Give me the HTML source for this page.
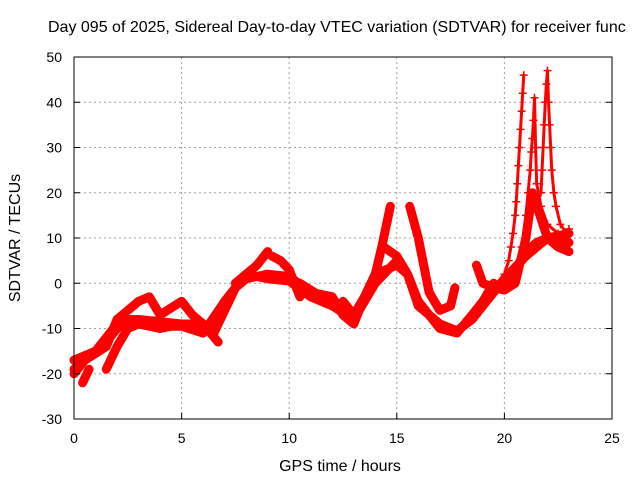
<!DOCTYPE html>
<html><head><meta charset="utf-8"><style>
body{margin:0;background:#fff}
svg text{font-family:"Liberation Sans",sans-serif;font-size:14px;fill:#000}
svg text.big{font-size:16px}
</style></head><body>
<svg id="chart" width="640" height="480" viewBox="0 0 640 480" xmlns="http://www.w3.org/2000/svg">
<rect width="640" height="480" fill="#fff"/>
<text class="big" x="48" y="32">Day 095 of 2025, Sidereal Day-to-day VTEC variation (SDTVAR) for receiver func</text>
<g id="grid"></g>
<g id="series"></g>
<rect x="74" y="57" width="538" height="362" fill="none" stroke="#000" stroke-width="1"/>
<g id="axes"></g>
<text class="big" x="340" y="471" text-anchor="middle">GPS time / hours</text>
<text class="big" transform="translate(20,238) rotate(-90)" text-anchor="middle">SDTVAR / TECUs</text>
</svg>
<script>
const xTicks=[0,5,10,15,20,25];
const yTicks=[-30,-20,-10,0,10,20,30,40,50];
const tA_h=[0,0.5,1,1.5,2,2.5,3,4,5,6,6.5,7,7.5,8,9,10,11,12,12.5,13,13.5,14,15,15.5,16,17,17.8,18.5,19,19.5,20,21,22,23];
const tA_v=[-17,-16,-15,-13,-10,-8,-8,-8.5,-9,-10,-11,-6,-1,1,2,1.5,-2,-3,-7,-9,-3,2,4,2,-5,-9,-10.5,-8,-5,-2,1,6,10,11];
const tA2_h=[0,1,2,3,4,5,6,7,8,9,10,11,12,13,14,15];
const tA2_v=[-19,-15,-9,-9,-9.5,-9.5,-11,-4,2,1,0.5,-3,-5,-8,0,5];
const tB_h=[0,0.5,1.5,2,3,3.5,4,5,5.5,6,6.7];
const tB_v=[-20,-17,-14,-8,-4,-3,-7,-4,-7,-9,-13];
const tC_h=[1.5,2,2.5,3,4,5,5.5];
const tC_v=[-19,-14,-10,-9,-10,-9,-9];
const tD_h=[0.4,0.5,0.7];
const tD_v=[-22,-21,-19];
const tE_h=[7.5,8,8.5,9];
const tE_v=[0,2,4,7];
const tF_h=[9.2,9.6,10,10.5];
const tF_v=[6,5,3,-3];
const tG_h=[9.5,10.5,11.5,12,12.7];
const tG_v=[1,0,-3,-5,-6];
const tH_h=[12.5,13,13.5,14,14.3,14.7];
const tH_v=[-4,-7,-3,2,8,17];
const tI_h=[14.4,15,15.5,16,17,17.8,18.5,19,19.5];
const tI_v=[8,6,2,-4,-10,-11,-7,-4,0];
const tJ_h=[15.6,16,16.5,17,17.5,17.7];
const tJ_v=[17,10,-2,-6,-5,-1];
const tK_h=[18.7,19,19.5,20,20.5,21,21.3,22,22.5,23];
const tK_v=[4,0,-1,-1.5,0,10,20,10,8,7];
const tK2_h=[19.5,20,20.5,21,21.5,22,22.5,23];
const tK2_v=[-1,0,3,7,9,10,10,9];
const tL_h=[19.5,20,20.2,20.3,20.4,20.5,20.55,20.6,20.65,20.7,20.75,20.8,20.85,20.9];
const tL_v=[-1,2,5,8,11,15,18,22,26,30,34,38,42,46];
const tM_h=[20.8,21,21.1,21.2,21.25,21.3,21.35,21.4,21.45,21.5,21.7,22,22.5,23];
const tM_v=[8,15,20,25,29,32,36,41,30,22,17,13,11,12];
const tN_h=[21.7,21.75,21.8,21.85,21.9,21.95,22,22.05,22.1,22.15,22.2,22.3,22.4,22.6,22.9];
const tN_v=[20,25,30,35,40,44,47,40,35,30,25,20,17,13,11];
const tracks=[[tA_h,tA_v,0],[tA2_h,tA2_v,0],[tB_h,tB_v,0],[tC_h,tC_v,0],[tD_h,tD_v,0],[tE_h,tE_v,0],[tF_h,tF_v,0],[tG_h,tG_v,0],[tH_h,tH_v,0],[tI_h,tI_v,0],[tJ_h,tJ_v,0],[tK_h,tK_v,0],[tK2_h,tK2_v,0],[tL_h,tL_v,1],[tM_h,tM_v,1],[tN_h,tN_v,1]];
const NS='http://www.w3.org/2000/svg';
const X=h=>74+h*538/25, Y=v=>57+(50-v)*362/80;
function mk(t,a){const e=document.createElementNS(NS,t);for(const k in a)e.setAttribute(k,a[k]);return e;}
const grid=document.getElementById('grid'),axes=document.getElementById('axes'),ser=document.getElementById('series');
xTicks.forEach(t=>{
 if(t>0&&t<25){const l=mk('line',{x1:X(t),x2:X(t),y1:57,y2:419,stroke:'#a0a0a0','stroke-dasharray':'2,3'});
 
 grid.appendChild(l);}
 const tk=mk('line',{x1:X(t),x2:X(t),y1:419,y2:413,stroke:'#000'});
 
 axes.appendChild(tk);
 const tx=mk('text',{x:X(t),y:443,'text-anchor':'middle'});tx.textContent=t;
 
 axes.appendChild(tx);
});
yTicks.forEach(t=>{
 if(t>-30&&t<50){const l=mk('line',{x1:74,x2:612,y1:Y(t),y2:Y(t),stroke:'#a0a0a0','stroke-dasharray':'2,3'});
 
 grid.appendChild(l);}
 const tk=mk('line',{x1:74,x2:80,y1:Y(t),y2:Y(t),stroke:'#000'});
 
 axes.appendChild(tk);
 const tk2=mk('line',{x1:606,x2:612,y1:Y(t),y2:Y(t),stroke:'#000'});
 
 axes.appendChild(tk2);
 const tx=mk('text',{x:62,y:Y(t)+5,'text-anchor':'end'});tx.textContent=t;
 
 axes.appendChild(tx);
});
tracks.forEach(([hs,vs,spike])=>{
 const pts=hs.map((h,i)=>X(h)+','+Y(vs[i])).join(' ');
 const pl=mk('polyline',{points:pts,fill:'none',stroke:'#f00','stroke-width':spike?3:9,'stroke-linejoin':'round','stroke-linecap':'round'});
 
 ser.appendChild(pl);
 hs.forEach((h,i)=>{const x=X(h),y=Y(vs[i]);
  const p=mk('path',{d:`M${x-4},${y}H${x+4}M${x},${y-4}V${y+4}`,stroke:'#f00','stroke-width':1.5});
  
  ser.appendChild(p);});
});
</script>
</body></html>
